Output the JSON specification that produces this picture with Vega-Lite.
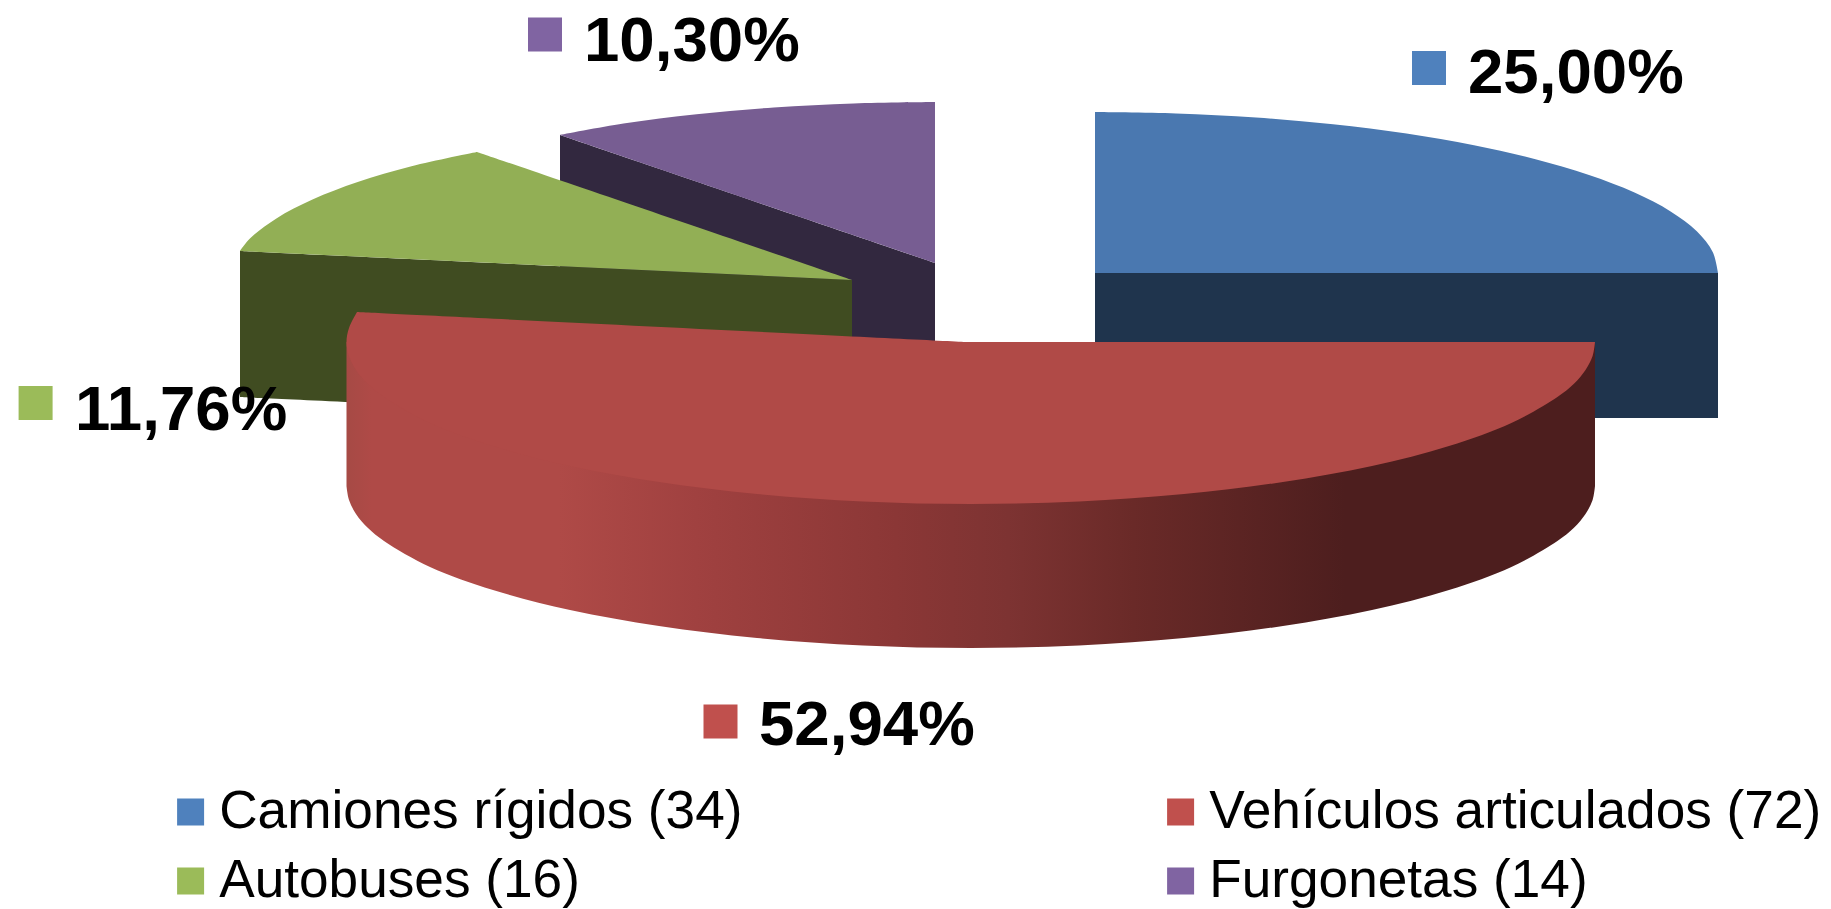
{"$schema":"https://vega.github.io/schema/vega-lite/v6.json","width":1831,"height":909,"padding":0,"autosize":{"type":"none"},"background":"white","config":{"view":{"stroke":null}},
"datasets":{"caras":[
{"pieza":"Furgonetas lateral","x":560,"y":135},{"pieza":"Furgonetas lateral","x":935,"y":263},{"pieza":"Furgonetas lateral","x":935,"y":263},{"pieza":"Furgonetas lateral","x":935,"y":408},{"pieza":"Furgonetas lateral","x":935,"y":408},{"pieza":"Furgonetas lateral","x":560,"y":280},
{"pieza":"Furgonetas","x":560,"y":135},{"pieza":"Furgonetas","x":623.5,"y":123.6},{"pieza":"Furgonetas","x":696.6,"y":114.3},{"pieza":"Furgonetas","x":773.8,"y":107.5},{"pieza":"Furgonetas","x":853.7,"y":103.4},{"pieza":"Furgonetas","x":935,"y":102},{"pieza":"Furgonetas","x":935,"y":102},{"pieza":"Furgonetas","x":935,"y":263},
{"pieza":"Autobuses lateral","x":240,"y":251},{"pieza":"Autobuses lateral","x":852,"y":280},{"pieza":"Autobuses lateral","x":852,"y":280},{"pieza":"Autobuses lateral","x":852,"y":425},{"pieza":"Autobuses lateral","x":852,"y":425},{"pieza":"Autobuses lateral","x":240,"y":397},
{"pieza":"Autobuses","x":240,"y":251},{"pieza":"Autobuses","x":250.2,"y":238.3},{"pieza":"Autobuses","x":276.4,"y":218.4},{"pieza":"Autobuses","x":312.5,"y":199.5},{"pieza":"Autobuses","x":357.7,"y":182},{"pieza":"Autobuses","x":411.5,"y":166.2},{"pieza":"Autobuses","x":477,"y":152},{"pieza":"Autobuses","x":477,"y":152},{"pieza":"Autobuses","x":852,"y":280},
{"pieza":"Camiones lateral","x":1095,"y":273},{"pieza":"Camiones lateral","x":1718,"y":273},{"pieza":"Camiones lateral","x":1718,"y":273},{"pieza":"Camiones lateral","x":1718,"y":418},{"pieza":"Camiones lateral","x":1718,"y":418},{"pieza":"Camiones lateral","x":1095,"y":418},
{"pieza":"Camiones","x":1095,"y":112},{"pieza":"Camiones","x":1176,"y":113.4},{"pieza":"Camiones","x":1256,"y":117.5},{"pieza":"Camiones","x":1333,"y":124.3},{"pieza":"Camiones","x":1406.5,"y":133.6},{"pieza":"Camiones","x":1474,"y":145.3},{"pieza":"Camiones","x":1535.5,"y":159.2},{"pieza":"Camiones","x":1589,"y":175},{"pieza":"Camiones","x":1634.5,"y":192.5},{"pieza":"Camiones","x":1670.6,"y":211.4},{"pieza":"Camiones","x":1696.8,"y":231.3},{"pieza":"Camiones","x":1712.7,"y":252},{"pieza":"Camiones","x":1718,"y":273},{"pieza":"Camiones","x":1718,"y":273},{"pieza":"Camiones","x":1095,"y":273}
],
"rojoLateral":[
{"x":346.5,"y":342},{"x":1595,"y":342},{"x":1595,"y":342},{"x":1595,"y":486},{"x":1595,"y":486},{"x":1592.6,"y":500},{"x":1585.5,"y":514},{"x":1573.7,"y":528},{"x":1557.4,"y":541},{"x":1511.4,"y":567},{"x":1449,"y":590},{"x":1372,"y":610},{"x":1283,"y":626},{"x":1184,"y":638},{"x":1079,"y":645.5},{"x":971,"y":648},{"x":863,"y":645.5},{"x":757,"y":638},{"x":659,"y":626},{"x":570,"y":610},{"x":493,"y":590},{"x":430,"y":567},{"x":384,"y":541},{"x":368,"y":528},{"x":356,"y":514},{"x":349,"y":500},{"x":346.5,"y":486}
],
"rojoTapa":[
{"x":357,"y":312},{"x":357,"y":312},{"x":968,"y":342},{"x":968,"y":342},{"x":1595,"y":342},{"x":1595,"y":342},{"x":1592.6,"y":356},{"x":1585.5,"y":370},{"x":1573.7,"y":384},{"x":1557.4,"y":397},{"x":1511.4,"y":423},{"x":1449,"y":446},{"x":1372,"y":466},{"x":1283,"y":482},{"x":1184,"y":494},{"x":1079,"y":501.5},{"x":971,"y":504},{"x":863,"y":501.5},{"x":757,"y":494},{"x":659,"y":482},{"x":570,"y":466},{"x":493,"y":446},{"x":430,"y":423},{"x":384,"y":397},{"x":368,"y":384},{"x":356,"y":370},{"x":349,"y":356},{"x":346.5,"y":342},{"x":349,"y":328},{"x":357,"y":312}
],
"sectores":[
{"categoria":"Camiones rígidos (34)","pct":"25,00%","x":1429,"y":68,"xt":1468,"yt":93},
{"categoria":"Vehículos articulados (72)","pct":"52,94%","x":720.5,"y":721.5,"xt":759,"yt":745},
{"categoria":"Autobuses (16)","pct":"11,76%","x":35.6,"y":403,"xt":75,"yt":430},
{"categoria":"Furgonetas (14)","pct":"10,30%","x":545,"y":34.5,"xt":584,"yt":61}
]},
"layer":[
{"data":{"name":"caras"},"mark":{"type":"line","strokeWidth":0,"interpolate":"catmull-rom"},"encoding":{
"x":{"field":"x","type":"quantitative","scale":{"domain":[0,1831],"nice":false,"zero":false},"axis":null},
"y":{"field":"y","type":"quantitative","scale":{"domain":[909,0],"nice":false,"zero":false},"axis":null},
"order":{"value":null},
"fill":{"field":"pieza","type":"nominal","legend":null,"scale":{"domain":["Furgonetas lateral","Furgonetas","Autobuses lateral","Autobuses","Camiones lateral","Camiones"],"range":["#32283f","#775d92","#404c21","#92af55","#1f344d","#4a78b0"]}}}},
{"data":{"name":"rojoLateral"},"mark":{"type":"line","strokeWidth":0,"interpolate":"catmull-rom","fill":{"gradient":"linear","x1":0,"x2":1,"y1":0,"y2":0,"stops":[{"offset":0,"color":"#a64a45"},{"offset":0.02,"color":"#af4a47"},{"offset":0.17,"color":"#af4a47"},{"offset":0.28,"color":"#a04140"},{"offset":0.44,"color":"#8b3736"},{"offset":0.53,"color":"#7d3332"},{"offset":0.63,"color":"#6a2a28"},{"offset":0.8,"color":"#4d1e1e"},{"offset":1,"color":"#4d1e1e"}]}},"encoding":{
"x":{"field":"x","type":"quantitative","axis":null},"y":{"field":"y","type":"quantitative","axis":null},"order":{"value":null}}},
{"data":{"name":"rojoTapa"},"mark":{"type":"line","strokeWidth":0,"interpolate":"catmull-rom","fill":"#b04a47"},"encoding":{
"x":{"field":"x","type":"quantitative","axis":null},"y":{"field":"y","type":"quantitative","axis":null},"order":{"value":null}}},
{"data":{"name":"sectores"},"mark":{"type":"point","shape":"square","filled":true,"size":1156,"opacity":1,"strokeWidth":0},"encoding":{
"x":{"field":"x","type":"quantitative","axis":null},"y":{"field":"y","type":"quantitative","axis":null},
"color":{"field":"categoria","type":"nominal","scale":{"domain":["Camiones rígidos (34)","Vehículos articulados (72)","Autobuses (16)","Furgonetas (14)"],"range":["#4f81bd","#c0504d","#9bbb59","#8064a2"]},
"legend":{"orient":"none","legendX":164,"legendY":785,"direction":"horizontal","title":null,"columns":2,"columnPadding":411,"rowPadding":15,"symbolType":"square","symbolSize":729,"symbolStrokeWidth":0,"symbolOpacity":1,"labelFont":"Liberation Sans","labelFontSize":53.2,"labelColor":"#000000","labelOffset":2,"labelLimit":800,"clipHeight":54}}}},
{"data":{"name":"sectores"},"mark":{"type":"text","align":"left","baseline":"alphabetic","font":"Liberation Sans","fontWeight":"bold","fontSize":63.6,"color":"#000000"},"encoding":{
"x":{"field":"xt","type":"quantitative","axis":null},"y":{"field":"yt","type":"quantitative","axis":null},"text":{"field":"pct","type":"nominal"}}}
]}
